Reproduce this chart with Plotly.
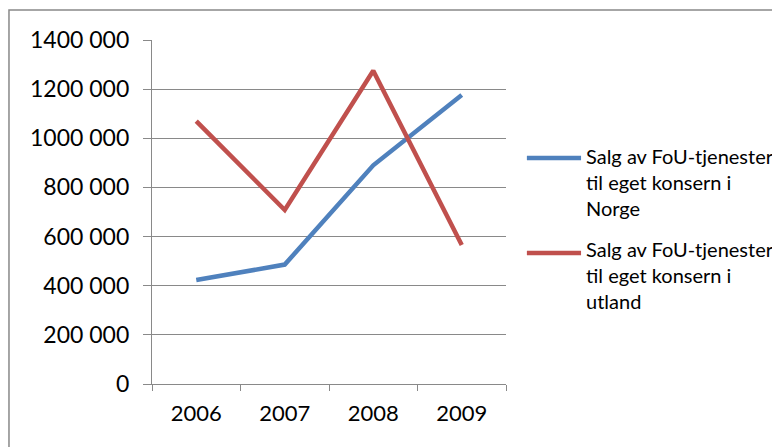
import plotly.graph_objects as go

years = ["2006", "2007", "2008", "2009"]
norge = [423000, 486000, 890000, 1176000]
utland = [1070000, 708000, 1275000, 566000]
series_names = [
    "Salg av FoU-tjenester<br>til eget konsern i<br>Norge",
    "Salg av FoU-tjenester<br>til eget konsern i<br>utland",
]
colors = ["#4F81BD", "#C0504D"]
y_tickvals = [0, 200000, 400000, 600000, 800000, 1000000, 1200000, 1400000]
y_ticktext = ["0", "200 000", "400 000", "600 000", "800 000", "1000 000", "1200 000", "1400 000"]

FONT = "Lato, Calibri, sans-serif"
GRID = "#898989"

fig = go.Figure()
for vals, name, col in zip([norge, utland], series_names, colors):
    fig.add_trace(go.Scatter(
        x=years, y=vals, mode="lines", name=name,
        line=dict(color=col, width=4.5), showlegend=False,
    ))

# legend drawn as line swatches with wrapped labels
legend_y = [0.657, 0.381]
label_top = [0.703, 0.433]
for ly, ty, name, col in zip(legend_y, label_top, series_names, colors):
    fig.add_shape(type="line", xref="paper", yref="paper",
                  x0=1.059, x1=1.212, y0=ly, y1=ly,
                  line=dict(color=col, width=4.5))
    fig.add_annotation(xref="paper", yref="paper", x=1.22, y=ty,
                       xanchor="left", yanchor="top", align="left",
                       text=name, showarrow=False,
                       font=dict(family=FONT, size=20, color="#000"))

# chart-area frame
fig.add_shape(type="rect", xref="paper", yref="paper",
              x0=-0.404, x1=1.80, y0=-0.25, y1=1.087,
              line=dict(color=GRID, width=1.5), layer="below")

fig.update_layout(
    width=772, height=447,
    margin=dict(l=152, r=266, t=40, b=63),
    paper_bgcolor="white", plot_bgcolor="white",
    font=dict(family=FONT, size=22, color="#000"),
    xaxis=dict(
        type="category", range=[-0.5, 3.5],
        showline=True, linecolor=GRID, linewidth=1.3,
        ticks="outside", tickson="boundaries", ticklen=6, tickcolor=GRID,
        tickwidth=1.3, showgrid=False, ticklabelstandoff=9,
        tickfont=dict(size=22),
    ),
    yaxis=dict(
        range=[0, 1400000], tickvals=y_tickvals, ticktext=y_ticktext,
        showline=True, linecolor=GRID, linewidth=1.3,
        ticks="outside", ticklen=8, tickcolor=GRID, tickwidth=1.3,
        showgrid=True, gridcolor=GRID, gridwidth=1.3, zeroline=False,
        ticklabelstandoff=9, tickfont=dict(size=23),
    ),
)

fig.write_html("out.html")
